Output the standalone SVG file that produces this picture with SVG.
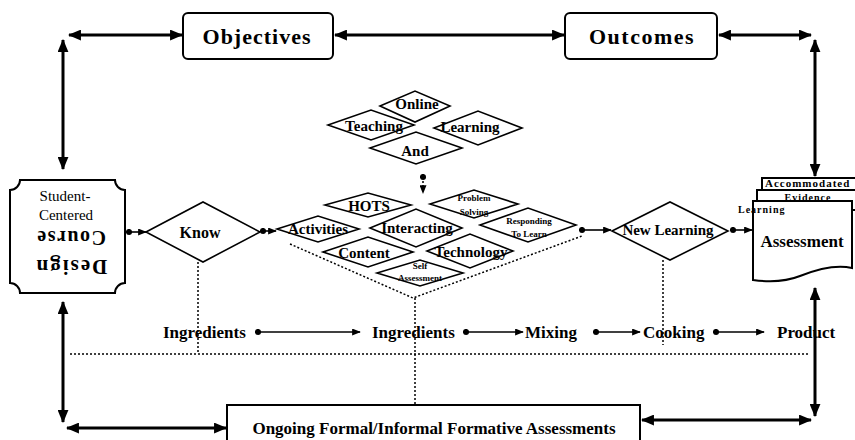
<svg xmlns="http://www.w3.org/2000/svg" width="855" height="440" viewBox="0 0 855 440">
<style>
  .t { font-family: "Liberation Serif", "Times New Roman", serif; font-weight: bold; fill: #000; text-anchor: middle; dominant-baseline: central; }
  .n { font-weight: normal; }
  .box { fill: #fff; stroke: #000; stroke-width: 2; }
  .dia { fill: #fff; stroke: #000; stroke-width: 1.6; }
  .thick { fill: none; stroke: #000; stroke-width: 3; }
  .thin { fill: none; stroke: #000; stroke-width: 1.6; }
  .dot { fill: none; stroke: #000; stroke-width: 1.5; stroke-dasharray: 2 2; }
  .row { font-size: 17px; text-anchor: start; }
</style>
<defs>
  <marker id="ab" viewBox="0 0 12 10" refX="11" refY="5" markerWidth="13" markerHeight="11" markerUnits="userSpaceOnUse" orient="auto-start-reverse">
    <path d="M0,0 L12,5 L0,10 Z" fill="#000"/>
  </marker>
  <marker id="as" viewBox="0 0 10 8" refX="9" refY="4" markerWidth="9" markerHeight="7" markerUnits="userSpaceOnUse" orient="auto-start-reverse">
    <path d="M0,0 L10,4 L0,8 Z" fill="#000"/>
  </marker>
  <marker id="dt" viewBox="0 0 8 8" refX="4" refY="4" markerWidth="7" markerHeight="7" markerUnits="userSpaceOnUse">
    <circle cx="4" cy="4" r="3.5" fill="#000"/>
  </marker>
</defs>

<g id="connectors">
  <line class="thick" x1="69" y1="35" x2="182" y2="35" marker-start="url(#ab)" marker-end="url(#ab)"/>
  <line class="thick" x1="63" y1="40" x2="63" y2="169" marker-start="url(#ab)" marker-end="url(#ab)"/>
  <line class="thick" x1="335" y1="35" x2="564" y2="35" marker-start="url(#ab)" marker-end="url(#ab)"/>
  <line class="thick" x1="719" y1="35" x2="811" y2="35" marker-start="url(#ab)" marker-end="url(#ab)"/>
  <line class="thick" x1="815" y1="40" x2="815" y2="176" marker-start="url(#ab)" marker-end="url(#ab)"/>
  <line class="thick" x1="63" y1="302" x2="63" y2="422" marker-start="url(#ab)" marker-end="url(#ab)"/>
  <line class="thick" x1="67" y1="428" x2="226" y2="428" marker-start="url(#ab)" marker-end="url(#ab)"/>
  <line class="thick" x1="815" y1="288" x2="815" y2="416" marker-start="url(#ab)" marker-end="url(#ab)"/>
  <line class="thick" x1="642" y1="420" x2="811" y2="420" marker-start="url(#ab)" marker-end="url(#ab)"/>
  <line class="thin" x1="129" y1="232" x2="146" y2="232" marker-start="url(#dt)" marker-end="url(#as)"/>
  <line class="thin" x1="263" y1="231" x2="276" y2="231" marker-start="url(#dt)" marker-end="url(#as)"/>
  <line class="thin" x1="582" y1="230" x2="611" y2="230" marker-start="url(#dt)" marker-end="url(#as)"/>
  <line class="thin" x1="733" y1="230" x2="752" y2="230" marker-start="url(#dt)" marker-end="url(#as)"/>
  <line class="dot" x1="423" y1="177" x2="423" y2="193" marker-start="url(#dt)" marker-end="url(#as)"/>
  <polyline class="dot" points="290,244 413,298 582,236" stroke-width="1"/>
  <line class="dot" x1="415" y1="298" x2="415" y2="405"/>
  <line class="dot" x1="198" y1="262" x2="198" y2="354"/>
  <line class="dot" x1="663" y1="260" x2="663" y2="345" stroke-width="1"/>
  <line class="dot" x1="70" y1="354" x2="808" y2="354" stroke-width="1.2" stroke-dasharray="4 4"/>
  <line class="thin" x1="258" y1="332" x2="360" y2="332" marker-start="url(#dt)" marker-end="url(#as)"/>
  <line class="thin" x1="466" y1="332" x2="523" y2="332" marker-start="url(#dt)" marker-end="url(#as)"/>
  <line class="thin" x1="596" y1="332" x2="640" y2="332" marker-start="url(#dt)" marker-end="url(#as)"/>
  <line class="thin" x1="716" y1="332" x2="764" y2="332" marker-start="url(#dt)" marker-end="url(#as)"/>
</g>

<g id="objectives">
  <rect class="box" x="183" y="13" width="150" height="46" rx="5"/>
  <text class="t" x="257" y="36" font-size="22" letter-spacing="1">Objectives</text>
</g>
<g id="outcomes">
  <rect class="box" x="565" y="13" width="152" height="46" rx="5"/>
  <text class="t" x="642" y="36" font-size="22" letter-spacing="1.5">Outcomes</text>
</g>

<g id="design">
  <path class="box" stroke-width="2.5" d="M20,180 L115,180 A10,10 0 0 0 125,190 L125,283 A10,10 0 0 0 115,293 L20,293 A10,10 0 0 0 10,283 L10,190 A10,10 0 0 0 20,180 Z"/>
  <text class="t n" x="65" y="196" font-size="15">Student-</text>
  <text class="t n" x="66" y="215" font-size="15">Centered</text>
  <text class="t" x="71" y="238" font-size="20" letter-spacing="1.5" transform="rotate(180 71 238)">Course</text>
  <text class="t" x="71" y="267" font-size="21" letter-spacing="2" transform="rotate(180 71 267)">Design</text>
</g>

<g id="know">
  <polygon class="dia" points="146,232 203,202 260,232 203,262"/>
  <text class="t" x="200" y="232" font-size="16">Know</text>
</g>

<g id="online">
  <polygon class="dia" points="380,106 415,91 450,106 415,122"/>
  <text class="t" x="417" y="104" font-size="15">Online</text>
</g>
<g id="teaching">
  <polygon class="dia" points="328,125 371,110 414,125 371,140"/>
  <text class="t" x="374" y="126" font-size="15">Teaching</text>
</g>
<g id="learning">
  <polygon class="dia" points="434,128 478,111 522,128 478,145"/>
  <text class="t" x="470" y="127" font-size="15">Learning</text>
</g>
<g id="and">
  <polygon class="dia" points="370,148 416,132 462,148 416,164"/>
  <text class="t" x="415" y="151" font-size="15">And</text>
</g>

<g id="hots">
  <polygon class="dia" points="325,205 368,193 411,205 368,217"/>
  <text class="t" x="369" y="206" font-size="15">HOTS</text>
</g>
<g id="problem">
  <polygon class="dia" points="430,204 474,190 518,204 474,218"/>
  <text class="t" x="474" y="198" font-size="9">Problem</text>
  <text class="t" x="474" y="212" font-size="9">Solving</text>
</g>
<g id="activities">
  <polygon class="dia" points="277,229 318,216 359,229 318,242"/>
  <text class="t" x="318" y="229" font-size="15">Activities</text>
</g>
<g id="interacting">
  <polygon class="dia" points="370,228 416,209 462,228 416,247"/>
  <text class="t" x="417" y="228" font-size="15">Interacting</text>
</g>
<g id="responding">
  <polygon class="dia" points="480,225 528,208 576,225 528,242"/>
  <text class="t" x="529" y="221" font-size="9">Responding</text>
  <text class="t" x="529" y="234" font-size="9">To Learn</text>
</g>
<g id="content">
  <polygon class="dia" points="323,252 368,237 413,252 368,267"/>
  <text class="t" x="364" y="253" font-size="15">Content</text>
</g>
<g id="technology">
  <polygon class="dia" points="427,251 470,234 513,251 470,268"/>
  <text class="t" x="471" y="252" font-size="15">Technology</text>
</g>
<g id="self">
  <polygon class="dia" points="377,273 420,260 463,273 420,286"/>
  <text class="t" x="420" y="266" font-size="9">Self</text>
  <text class="t" x="420" y="278" font-size="9">Assessment</text>
</g>

<g id="newlearning">
  <polygon class="dia" points="612,231 670,202 728,231 670,260"/>
  <text class="t" x="668" y="230" font-size="15">New Learning</text>
</g>

<g id="assessment">
  <rect class="box" x="762" y="178" width="100" height="30"/>
  <rect class="box" x="757" y="190" width="100" height="20"/>
  <path class="box" d="M753,201 L852,201 L852,268 C835,264 815,270 800,276 C785,282 768,282 753,280 Z"/>
  <text class="t" x="765" y="183" font-size="11" letter-spacing="1" style="text-anchor:start">Accommodated</text>
  <text class="t" x="808" y="197" font-size="10" letter-spacing="1">Evidence</text>
  <text class="t" x="738" y="209" font-size="10" letter-spacing="1" style="text-anchor:start">Learning</text>
  <text class="t" x="802" y="241" font-size="17">Assessment</text>
</g>

<g id="ongoing">
  <rect class="box" x="227" y="405" width="413" height="45"/>
  <text class="t" x="434" y="428" font-size="17">Ongoing Formal/Informal Formative Assessments</text>
</g>

<g id="row">
  <text class="t row" x="163" y="332">Ingredients</text>
  <text class="t row" x="372" y="332">Ingredients</text>
  <text class="t row" x="525" y="332">Mixing</text>
  <text class="t row" x="643" y="332">Cooking</text>
  <text class="t row" x="777" y="332">Product</text>
</g>
</svg>
